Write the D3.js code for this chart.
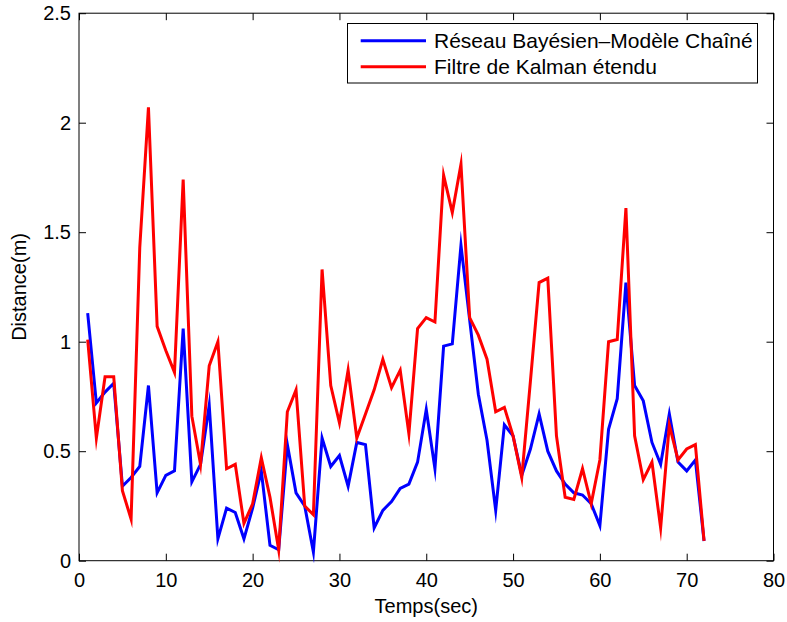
<!DOCTYPE html>
<html>
<head>
<meta charset="utf-8">
<script src="https://cdn.jsdelivr.net/npm/d3@7"></script>
<style>
  html, body { margin: 0; padding: 0; background: #fff; }
  svg { display: block; }
  text { font-family: "Liberation Sans", Arial, Helvetica, sans-serif; fill: #000; }
</style>
</head>
<body>
<svg id="chart" width="787" height="622"></svg>
<script>
// Time steps (seconds)
const temps = d3.range(1, 73);

// Distance error, Bayesian network (chained model)
const reseauBayesien = [
  1.13, 0.72, 0.77, 0.81, 0.34, 0.38, 0.43, 0.80, 0.31, 0.39,
  0.41, 1.06, 0.36, 0.44, 0.71, 0.10, 0.24, 0.22, 0.10, 0.24,
  0.41, 0.07, 0.05, 0.53, 0.31, 0.25, 0.04, 0.56, 0.43, 0.48,
  0.34, 0.54, 0.53, 0.15, 0.23, 0.27, 0.33, 0.35, 0.45, 0.69,
  0.42, 0.98, 0.99, 1.44, 1.10, 0.76, 0.55, 0.23, 0.62, 0.57,
  0.39, 0.51, 0.67, 0.50, 0.41, 0.35, 0.31, 0.30, 0.26, 0.16,
  0.60, 0.74, 1.27, 0.80, 0.73, 0.54, 0.44, 0.67, 0.45, 0.41,
  0.46, 0.09
];

// Distance error, extended Kalman filter
const filtreKalman = [
  1.01, 0.56, 0.84, 0.84, 0.32, 0.19, 1.43, 2.07, 1.07, 0.96,
  0.86, 1.74, 0.66, 0.44, 0.89, 1.00, 0.42, 0.44, 0.17, 0.26,
  0.47, 0.29, 0.05, 0.68, 0.78, 0.25, 0.21, 1.33, 0.80, 0.63,
  0.87, 0.56, 0.67, 0.78, 0.92, 0.79, 0.87, 0.58, 1.06, 1.11,
  1.09, 1.76, 1.59, 1.81, 1.11, 1.03, 0.92, 0.68, 0.70, 0.57,
  0.38, 0.82, 1.27, 1.29, 0.57, 0.29, 0.28, 0.42, 0.26, 0.46,
  1.00, 1.01, 1.61, 0.57, 0.37, 0.45, 0.15, 0.62, 0.46, 0.51,
  0.53, 0.09
];

const xTicks = [0, 10, 20, 30, 40, 50, 60, 70, 80];
const yTicks = [0, 0.5, 1, 1.5, 2, 2.5];
const seriesNames = ["Réseau Bayésien–Modèle Chaîné", "Filtre de Kalman étendu"];
const seriesColors = ["#0000ff", "#ff0000"];

const svg = d3.select("#chart");
const plotLeft = 79, plotRight = 773.5, plotTop = 13.2, plotBottom = 560.7;

const x = d3.scaleLinear().domain([0, 80]).range([plotLeft, plotRight]);
const y = d3.scaleLinear().domain([0, 2.5]).range([plotBottom, plotTop]);

const tickLen = 7;
const fontSize = 20;
const legendFontSize = 21;
const fontFamily = "Liberation Sans, Arial, sans-serif";

// Box frame
svg.append("rect")
  .attr("x", plotLeft).attr("y", plotTop)
  .attr("width", plotRight - plotLeft).attr("height", plotBottom - plotTop)
  .attr("fill", "none").attr("stroke", "#000").attr("stroke-width", 1);

// Bottom axis with inward ticks
const xAxis = d3.axisBottom(x).tickValues(xTicks).tickSizeInner(-tickLen).tickSizeOuter(0).tickPadding(12);
const gx = svg.append("g").attr("transform", `translate(0,${plotBottom})`).call(xAxis);
gx.select(".domain").remove();
gx.selectAll("text").attr("font-size", fontSize).style("font-family", fontFamily);

// Top ticks
const gxt = svg.append("g").attr("transform", `translate(0,${plotTop})`)
  .call(d3.axisTop(x).tickValues(xTicks).tickSizeInner(-tickLen).tickSizeOuter(0).tickFormat(""));
gxt.select(".domain").remove();

// Left axis with inward ticks
const yAxis = d3.axisLeft(y).tickValues(yTicks).tickSizeInner(-tickLen).tickSizeOuter(0).tickPadding(8)
  .tickFormat(d => d3.format("")(d));
const gy = svg.append("g").attr("transform", `translate(${plotLeft},0)`).call(yAxis);
gy.select(".domain").remove();
gy.selectAll("text").attr("font-size", fontSize).style("font-family", fontFamily);

// Right ticks
const gyr = svg.append("g").attr("transform", `translate(${plotRight},0)`)
  .call(d3.axisRight(y).tickValues(yTicks).tickSizeInner(-tickLen).tickSizeOuter(0).tickFormat(""));
gyr.select(".domain").remove();

svg.selectAll(".tick line").attr("stroke", "#000");

// Axis titles
svg.append("text")
  .attr("x", (plotLeft + plotRight) / 2).attr("y", 613)
  .attr("text-anchor", "middle").attr("font-size", fontSize)
  .text("Temps(sec)");
svg.append("text")
  .attr("transform", `translate(26,${(plotTop + plotBottom) / 2}) rotate(-90)`)
  .attr("text-anchor", "middle").attr("font-size", fontSize)
  .text("Distance(m)");

// Series lines
const line = d3.line().x((d, i) => x(temps[i])).y(d => y(d));
[reseauBayesien, filtreKalman].forEach((s, k) => {
  svg.append("path")
    .datum(s)
    .attr("d", line)
    .attr("fill", "none")
    .attr("stroke", seriesColors[k])
    .attr("stroke-width", 3)
    .attr("stroke-linejoin", "miter")
    .attr("stroke-miterlimit", 10);
});

// Legend
const lg = svg.append("g");
lg.append("rect")
  .attr("x", 347.5).attr("y", 23.5).attr("width", 410).attr("height", 59.5)
  .attr("fill", "#fff").attr("stroke", "#000").attr("stroke-width", 1);
seriesNames.forEach((name, k) => {
  const ly = 40.7 + k * 26;
  lg.append("line")
    .attr("x1", 360.7).attr("x2", 426).attr("y1", ly).attr("y2", ly)
    .attr("stroke", seriesColors[k]).attr("stroke-width", 3);
  lg.append("text")
    .attr("x", 434).attr("y", ly + 7)
    .attr("font-size", legendFontSize)
    .text(name);
});
</script>
</body>
</html>
